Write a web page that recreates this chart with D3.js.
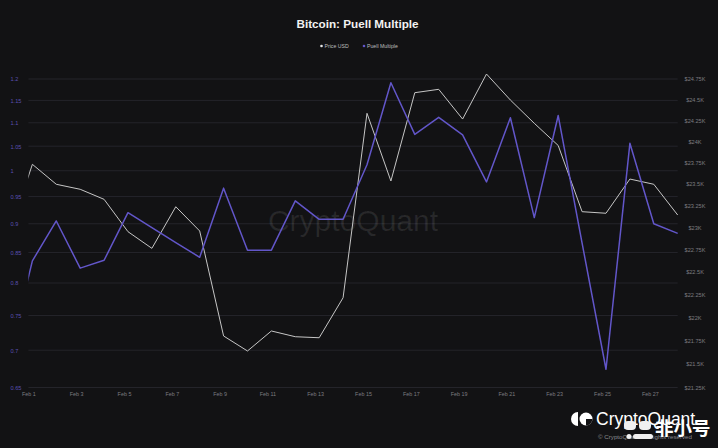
<!DOCTYPE html>
<html>
<head>
<meta charset="utf-8">
<script src="https://cdn.jsdelivr.net/npm/d3@7"></script>
<style>
  html, body { margin: 0; padding: 0; background: #121214; }
  svg { display: block; font-family: "Liberation Sans", Arial, sans-serif; }
</style>
</head>
<body>
<script>
// data (daily points, Jan 31 is clipped at the left edge)
var dates = [
  "2023-01-31T04:00", "2023-02-01T04:00", "2023-02-02T04:00", "2023-02-03T04:00",
  "2023-02-04T04:00", "2023-02-05T04:00", "2023-02-06T04:00", "2023-02-07T04:00",
  "2023-02-08T04:00", "2023-02-09T04:00", "2023-02-10T04:00", "2023-02-11T04:00",
  "2023-02-12T04:00", "2023-02-13T04:00", "2023-02-14T04:00", "2023-02-15T04:00",
  "2023-02-16T04:00", "2023-02-17T04:00", "2023-02-18T04:00", "2023-02-19T04:00",
  "2023-02-20T04:00", "2023-02-21T04:00", "2023-02-22T04:00", "2023-02-23T04:00",
  "2023-02-24T04:00", "2023-02-25T04:00", "2023-02-26T04:00", "2023-02-27T04:00",
  "2023-02-28T04:00"
];
var priceUSD = [
  22900, 23728, 23495, 23437, 23321, 22951, 22763, 23236, 22959,
  21798, 21637, 21852, 21790, 21779, 22214, 24334, 23533, 24583,
  24624, 24265, 24811, 24494, 24214, 23950, 23179, 23161, 23556,
  23495, 23141
];
var puell = [
  0.688, 0.836, 0.905, 0.824, 0.837, 0.920, 0.893, 0.867, 0.842,
  0.966, 0.854, 0.854, 0.942, 0.908, 0.908, 1.012, 1.191, 1.075,
  1.112, 1.074, 0.978, 1.111, 0.911, 1.116, 0.866, 0.674, 1.056,
  0.900, 0.883
];
var leftTicks = [1.2, 1.15, 1.1, 1.05, 1, 0.95, 0.9, 0.85, 0.8, 0.75, 0.7, 0.65];
var rightTicks = [24750, 24500, 24250, 24000, 23750, 23500, 23250, 23000,
  22750, 22500, 22250, 22000, 21750, 21500, 21250];
var xTicks = ["2023-02-01", "2023-02-03", "2023-02-05", "2023-02-07", "2023-02-09",
  "2023-02-11", "2023-02-13", "2023-02-15", "2023-02-17", "2023-02-19",
  "2023-02-21", "2023-02-23", "2023-02-25", "2023-02-27"];

var width = 718, height = 448;
var parseT = d3.utcParse("%Y-%m-%dT%H:%M");
var parseD = d3.utcParse("%Y-%m-%d");
var rows = dates.map(function (d, i) {
  return { t: parseT(d), price: priceUSD[i], puell: puell[i] };
});

var x = d3.scaleUtc()
  .domain([parseD("2023-02-01"), parseT("2023-02-28T04:00")])
  .range([28.4, 677.7]);
var yL = d3.scaleLog().domain([0.65, 1.2]).range([387.5, 79]);
var yR = d3.scaleLog().domain([21250, 24750]).range([387.5, 79]);

var svg = d3.select("body").append("svg")
  .attr("width", width)
  .attr("height", height);

svg.append("rect").attr("width", width).attr("height", height).attr("fill", "#121214");

svg.append("defs").append("clipPath").attr("id", "plot")
  .append("rect")
  .attr("x", x.range()[0]).attr("y", 60)
  .attr("width", x.range()[1] - x.range()[0] + 2).attr("height", 340);

// title + legend
svg.append("text")
  .attr("x", 357.5).attr("y", 28)
  .attr("text-anchor", "middle")
  .attr("font-size", 11.7).attr("font-weight", "bold")
  .attr("fill", "#f2f2f2")
  .text("Bitcoin: Puell Multiple");

var legend = [
  { name: "Price USD", color: "#e6e6e6", x: 321.5 },
  { name: "Puell Multiple", color: "#6256c9", x: 364 }
];
var lg = svg.selectAll(".legend").data(legend).enter().append("g")
  .attr("class", "legend")
  .attr("transform", function (d) { return "translate(" + d.x + ",46)"; });
lg.append("circle").attr("r", 1.3).attr("fill", function (d) { return d.color; });
lg.append("text")
  .attr("x", 3).attr("y", 1.9)
  .attr("font-size", 5.2).attr("fill", "#bdbdbd")
  .text(function (d) { return d.name; });

// grid
svg.append("g").selectAll("line").data(leftTicks).enter().append("line")
  .attr("x1", x.range()[0]).attr("x2", x.range()[1])
  .attr("y1", function (d) { return yL(d); })
  .attr("y2", function (d) { return yL(d); })
  .attr("stroke", "#24242a").attr("stroke-width", 1);

// watermark
svg.append("text")
  .attr("x", 353).attr("y", 231)
  .attr("text-anchor", "middle")
  .attr("font-size", 30)
  .attr("fill", "#ffffff").attr("fill-opacity", 0.09)
  .text("CryptoQuant");

// axes
var axL = svg.append("g").attr("transform", "translate(10.5,0)")
  .call(d3.axisLeft(yL).tickValues(leftTicks).tickSize(0).tickFormat(d3.format("")));
axL.select(".domain").remove();
axL.selectAll("text")
  .attr("x", 0).attr("dy", "0.35em")
  .attr("text-anchor", "start")
  .attr("font-size", 5.6).attr("font-family", null)
  .attr("fill", "#5a50b0");

var axR = svg.append("g").attr("transform", "translate(695,0)")
  .call(d3.axisRight(yR).tickValues(rightTicks).tickSize(0)
    .tickFormat(function (d) { return "$" + d3.format("")(d / 1000) + "K"; }));
axR.select(".domain").remove();
axR.selectAll("text")
  .attr("x", 0).attr("dy", "0.35em")
  .attr("text-anchor", "middle")
  .attr("font-size", 5.6).attr("font-family", null)
  .attr("fill", "#7c7c80");

var axB = svg.append("g").attr("transform", "translate(0,392)")
  .call(d3.axisBottom(x).tickValues(xTicks.map(parseD)).tickSize(0)
    .tickFormat(d3.utcFormat("%b %-d")));
axB.select(".domain").remove();
axB.selectAll("text")
  .attr("y", 0).attr("dy", "0.71em")
  .attr("font-size", 5.4).attr("font-family", null)
  .attr("fill", "#7c7c80");

// lines
var plot = svg.append("g").attr("clip-path", "url(#plot)");
plot.append("path").datum(rows)
  .attr("fill", "none")
  .attr("stroke", "#c6c6c6").attr("stroke-width", 1)
  .attr("stroke-linejoin", "round")
  .attr("d", d3.line().x(function (d) { return x(d.t); }).y(function (d) { return yR(d.price); }));
plot.append("path").datum(rows)
  .attr("fill", "none")
  .attr("stroke", "#6256c9").attr("stroke-width", 1.5)
  .attr("stroke-linejoin", "round")
  .attr("d", d3.line().x(function (d) { return x(d.t); }).y(function (d) { return yL(d.puell); }));

// bottom right branding
var brand = svg.append("g");
brand.append("path")
  .attr("d", "M578,412 A7,7 0 0 0 578,426 Z")
  .attr("fill", "#ffffff");
brand.append("circle").attr("cx", 586).attr("cy", 419).attr("r", 6.5).attr("fill", "#ffffff");
brand.append("path")
  .attr("d", "M586,419 L592.5,419 A6.5,6.5 0 0 1 586,425.5 Z")
  .attr("fill", "#121214");
brand.append("text")
  .attr("x", 596).attr("y", 425)
  .attr("font-size", 17.5).attr("fill", "#ffffff")
  .text("CryptoQuant");
brand.append("text")
  .attr("x", 598).attr("y", 439)
  .attr("font-size", 6.2).attr("fill", "#8a8a8e")
  .text("© CryptoQuant. All rights reserved");

// overlay mark
var ov = svg.append("g");
ov.append("rect").attr("x", 624).attr("y", 421).attr("width", 12).attr("height", 9).attr("rx", 4).attr("fill", "#f0f0f0");
ov.append("rect").attr("x", 639).attr("y", 421).attr("width", 12).attr("height", 9).attr("rx", 4).attr("fill", "#f0f0f0");
ov.append("circle").attr("cx", 629).attr("cy", 436.5).attr("r", 2.5).attr("fill", "#f0f0f0");
ov.append("rect").attr("x", 633).attr("y", 434).attr("width", 20).attr("height", 5).attr("rx", 2.5).attr("fill", "#f0f0f0");
ov.append("text")
  .attr("x", 655).attr("y", 434.5)
  .attr("font-size", 18.5).attr("font-weight", "bold").attr("font-family", "Noto Sans CJK SC")
  .attr("fill", "#ffffff")
  .text("非小号");
</script>
</body>
</html>
